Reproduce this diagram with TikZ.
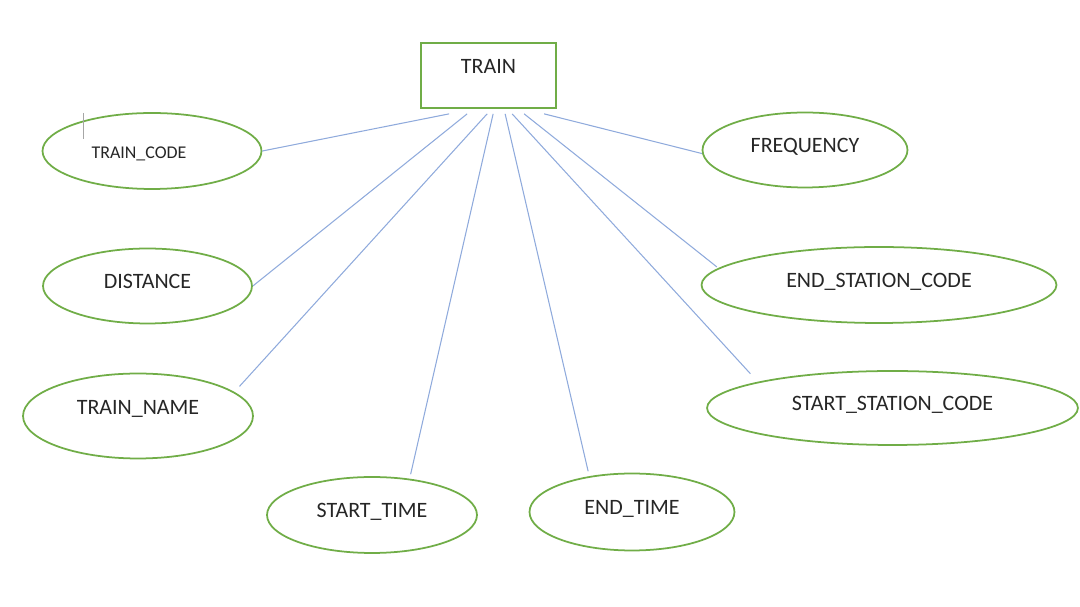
\documentclass[tikz,border=0pt]{standalone}
\usepackage{fontspec}
\setmainfont{Carlito}
\usepackage{tikz}
\usetikzlibrary{shapes.geometric,calc}

\definecolor{attrgreen}{HTML}{70AD47}
\definecolor{linkblue}{HTML}{8FAADC}
\definecolor{inkgray}{HTML}{262626}

\begin{document}
\begin{tikzpicture}[
  x=0.02cm,y=-0.02cm,
  entity/.style={draw=attrgreen, line width=1pt, rectangle, inner sep=0pt, minimum width=2.70cm, minimum height=1.30cm, text=inkgray, font=\fontsize{12.5}{14}\selectfont, text depth=0.36cm},
  attr/.style={draw=attrgreen, line width=1pt, ellipse, inner sep=0pt, text=inkgray, font=\fontsize{12.5}{14}\selectfont, text height=0.28cm, text depth=0.16cm},
  conn/.style={draw=linkblue, line width=0.6pt},
  cursor/.style={draw=gray!70, line width=0.5pt}
]
\useasboundingbox (0,0) rectangle (1080,607);
\node[entity] (train) at (488.5,75.5) {TRAIN};
\node[attr, minimum width=4.38cm, minimum height=1.52cm, font=\fontsize{10.2}{12}\selectfont, text height=0.31cm, text depth=0cm] (tcode) at (152,151) {TRAIN\_CODE\kern0.52cm};
\node[attr, minimum width=4.10cm, minimum height=1.50cm] (freq) at (805,150) {FREQUENCY};
\node[attr, minimum width=4.18cm, minimum height=1.50cm] (dist) at (147.5,286) {DISTANCE};
\node[attr, minimum width=7.10cm, minimum height=1.52cm] (escode) at (879,285) {END\_STATION\_CODE};
\node[attr, minimum width=4.60cm, minimum height=1.70cm, text depth=0.32cm] (tname) at (138,416) {TRAIN\_NAME};
\node[attr, minimum width=7.42cm, minimum height=1.48cm] (sscode) at (892.5,408) {START\_STATION\_CODE};
\node[attr, minimum width=4.20cm, minimum height=1.52cm] (stime) at (372,515) {START\_TIME};
\node[attr, minimum width=4.10cm, minimum height=1.54cm] (etime) at (632,512) {END\_TIME};
\draw[cursor] (83,113) -- (83,139);
\foreach \dx/\tgt/\gap in {29/tcode.east/0, 47/dist.east/0, 67/tname.14/0.15, 73/stime.44/0.09, 85/etime.140/0.1, 92/sscode.169/0.22, 104/escode.174/0.04, 124/freq.182/0}{
  \draw[conn, shorten >=\gap cm] ([shift={(\dx,5)}]train.south west) -- (\tgt);
}
\end{tikzpicture}
\end{document}
